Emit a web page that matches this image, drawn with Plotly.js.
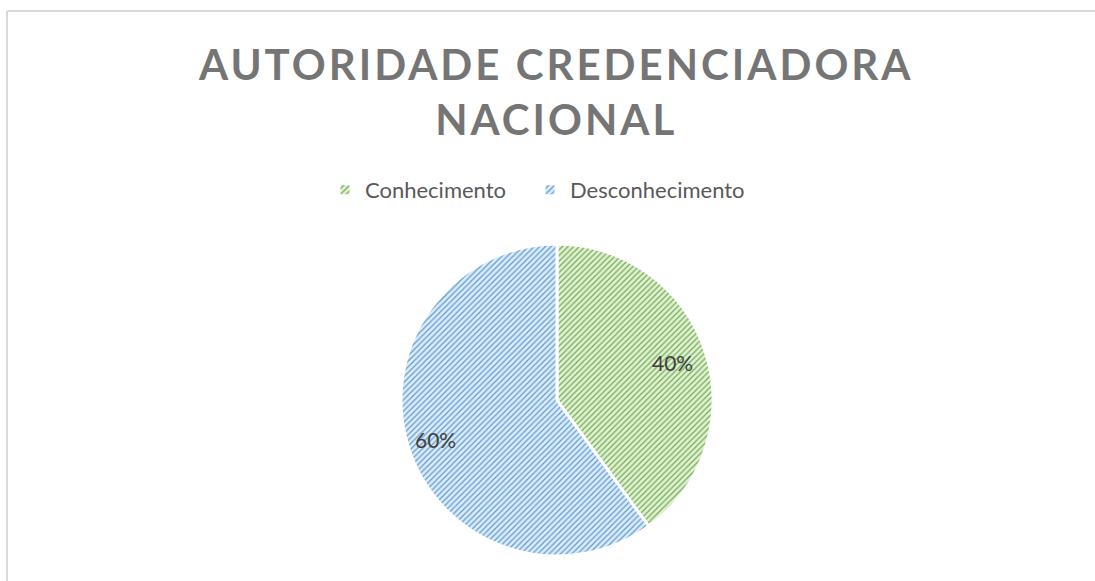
<!DOCTYPE html>
<html>
<head>
<meta charset="utf-8">
<script src="https://cdn.plot.ly/plotly-3.0.1.min.js"></script>
<style>
html, body { margin: 0; padding: 0; background: #fff; }
#chart { width: 1095px; height: 581px; }
.gtitle { letter-spacing: 3px; }
.legend .scrollbox { clip-path: none !important; }
</style>
</head>
<body>
<div id="chart"></div>
<script>
const categories = ["Conhecimento", "Desconhecimento"];
const values = [40, 60];
const titleText = "AUTORIDADE CREDENCIADORA<br>NACIONAL";

const W = 1095, H = 581;
const dom = { x: [0.3662, 0.6511], y: [0.043, 0.580] };

const trace = {
  type: "pie",
  labels: categories,
  values: values,
  sort: false,
  direction: "clockwise",
  rotation: 0,
  textinfo: "none",
  hoverinfo: "label+percent",
  marker: {
    colors: ["#70ad47", "#5b9bd5"],
    line: { color: "#ffffff", width: 3 },
    pattern: {
      shape: "/",
      fillmode: "replace",
      bgcolor: ["#e2f0d9", "#ddebf7"],
      fgcolor: ["#70ad47", "#5b9bd5"],
      size: 4,
      solidity: 0.3
    }
  },
  domain: dom
};

// percentage labels placed at the mid-angle of each slice (computed from values)
const total = values.reduce((a, b) => a + b, 0);
const cxPx = (dom.x[0] + dom.x[1]) / 2 * W;
const cyPx = (1 - (dom.y[0] + dom.y[1]) / 2) * H;
const rPx = Math.min((dom.x[1] - dom.x[0]) * W, (dom.y[1] - dom.y[0]) * H) / 2;
let cum = 0;
const annotations = values.map(v => {
  const mid = (cum + v / 2) / total * 2 * Math.PI;
  cum += v;
  const rr = rPx * 0.8;
  const px = cxPx + rr * Math.sin(mid) - 3;
  const py = cyPx - rr * Math.cos(mid) + 1;
  return {
    xref: "paper", yref: "paper",
    x: px / W, y: 1 - py / H,
    xanchor: "center", yanchor: "middle",
    showarrow: false,
    text: Math.round(v / total * 100) + "%",
    font: { family: "Lato, sans-serif", size: 21, color: "#404040" }
  };
});

const layout = {
  width: W,
  height: H,
  margin: { l: 0, r: 0, t: 0, b: 0 },
  paper_bgcolor: "#ffffff",
  title: {
    text: titleText,
    font: { family: "Lato, sans-serif", size: 42, color: "#757575", weight: "bold" },
    x: 0.508,
    xanchor: "center",
    y: 0.862,
    yanchor: "top",
    yref: "container"
  },
  showlegend: true,
  legend: {
    orientation: "h",
    x: 325 / 1095,
    xanchor: "left",
    y: 0.673,
    yanchor: "middle",
    font: { family: "Lato, sans-serif", size: 22, color: "#595959" },
    itemwidth: 30,
    entrywidth: 160,
    entrywidthmode: "pixels"
  },
  annotations: annotations,
  shapes: [
    { type: "line", xref: "paper", yref: "paper", x0: 7/1095, x1: 1.01, y0: 1 - 11/581, y1: 1 - 11/581, line: { color: "#d9d9d9", width: 2 } },
    { type: "line", xref: "paper", yref: "paper", x0: 7/1095, x1: 7/1095, y0: -0.01, y1: 1 - 11/581, line: { color: "#d9d9d9", width: 2 } }
  ]
};

Plotly.newPlot("chart", [trace], layout, { displayModeBar: false, staticPlot: true });
</script>
</body>
</html>
